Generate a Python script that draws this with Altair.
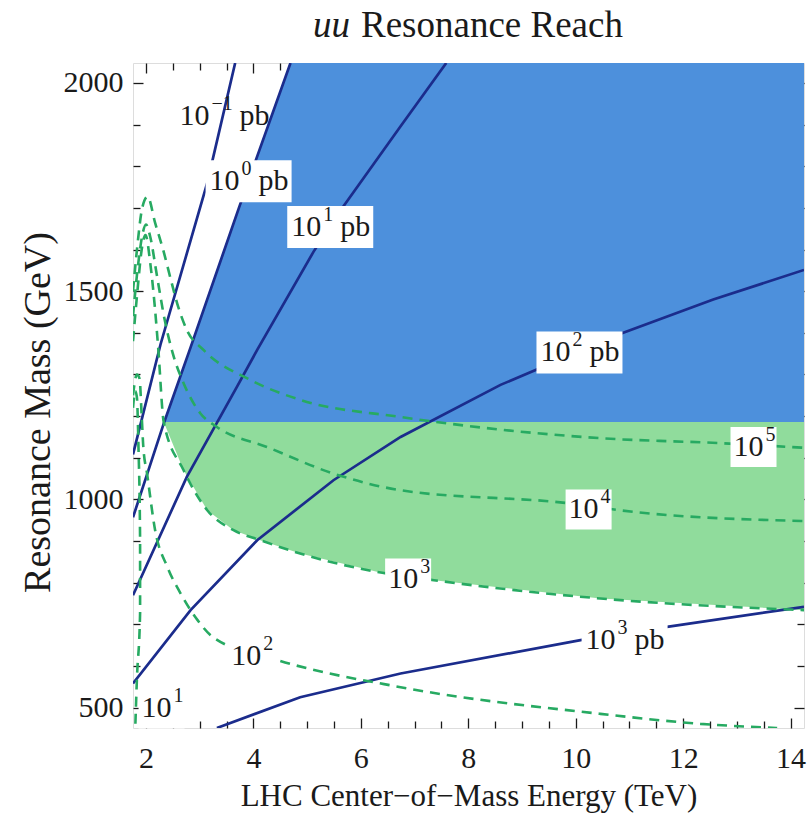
import altair as alt
import pandas as pd

# ---------------- axes ----------------
X_MIN, X_MAX = 1.758, 14.25
Y_MIN, Y_MAX = 451.0, 2048.0
SPLIT_MASS = 1186.0          # boundary between blue and green regions (GeV)

x_tick_values = [2, 2.5, 3, 3.5, 4, 4.5, 5, 5.5, 6, 6.5, 7, 7.5, 8, 8.5, 9, 9.5,
                 10, 10.5, 11, 11.5, 12, 12.5, 13, 13.5, 14]
x_tick_labels = [2, 4, 6, 8, 10, 12, 14]
y_tick_values = [500, 600, 700, 800, 900, 1000, 1100, 1200, 1300, 1400, 1500,
                 1600, 1700, 1800, 1900, 2000]
y_tick_labels = [500, 1000, 1500, 2000]

# ------------- cross-section contours (pb), solid navy -------------
pb_m1_x = [1.758, 2.27, 3.14, 3.66]
pb_m1_m = [1108, 1372, 1760, 2048]
pb_0_x = [1.758, 2.34, 2.83, 3.73, 4.04, 4.69]
pb_0_m = [957, 1186, 1365, 1700, 1813, 2048]
pb_1_x = [1.758, 2.76, 3.70, 4.07, 5.12, 5.67, 6.74, 7.59]
pb_1_m = [770, 1054, 1272, 1359, 1595, 1703, 1896, 2048]
pb_2_x = [1.758, 2.83, 4.07, 5.49, 6.74, 8.60, 10.86, 12.56, 14.25]
pb_2_m = [558, 734, 902, 1046, 1150, 1275, 1399, 1480, 1551]
pb_3_x = [3.32, 4.87, 6.74, 10.09, 11.70, 14.25]
pb_3_m = [451, 525, 582, 662, 694, 742]

# ------------- event-count contours, dashed green -------------
ev_5_x = [1.758, 1.84, 1.93, 2.03, 2.17, 2.32, 2.48, 2.58, 2.76, 3.07, 3.94,
          4.87, 6.74, 10.46, 12.70, 14.25]
ev_5_m = [1500, 1610, 1700, 1727, 1664, 1599, 1519, 1471, 1407, 1359, 1287,
          1239, 1198, 1147, 1135, 1124]
ev_4_x = [1.758, 1.85, 1.94, 2.00, 2.08, 2.20, 2.35, 2.50, 2.70, 3.01, 3.32,
          4.25, 5.49, 6.74, 9.85, 11.08, 14.25]
ev_4_m = [1440, 1560, 1640, 1660, 1630, 1540, 1430, 1350, 1279, 1207, 1174,
          1126, 1062, 1022, 991, 970, 948]
ev_3_x = [1.758, 1.84, 1.92, 1.99, 2.08, 2.17, 2.23, 2.33, 2.70, 3.14, 3.63,
          4.13, 4.87, 6.30, 7.36, 10.46, 14.25]
ev_3_m = [1380, 1500, 1600, 1635, 1567, 1454, 1359, 1186, 1070, 974, 926,
          902, 870, 826, 806, 762, 734]
ev_2_x = [1.758, 1.83, 1.88, 1.92, 1.95, 2.02, 2.17, 2.40, 2.64, 2.96, 3.25,
          4.45, 6.74, 10.46, 12.32, 13.75]
ev_2_m = [1250, 1300, 1290, 1200, 1126, 1062, 926, 837, 775, 710, 669,
          614, 549, 485, 461, 451]
ev_1_x = [1.758, 1.80, 1.83, 1.86, 1.89, 1.89, 1.83, 1.80]
ev_1_m = [1220, 1260, 1246, 1126, 900, 727, 566, 451]

# ------------- contour labels (10^exponent [pb]) -------------
pb_label_exp = ["−1", "0", "1", "2", "3"]
pb_label_x = [3.46, 3.91, 5.43, 10.07, 10.91]
pb_label_m = [1920, 1764, 1654, 1353, 663]
pb_label_boxed = [False, True, True, True, True]

ev_label_exp = ["5", "4", "3", "2", "1"]
ev_label_x = [13.31, 10.24, 6.88, 3.96, 2.29]
ev_label_m = [1126, 976, 810, 623, 498]

LABEL_BASE = "10"
PB_UNIT = "pb"

title_italic = "uu"
title_rest = "Resonance Reach"

# ---------------- build tables ----------------
def series_df(name, xs, ms):
    return pd.DataFrame({"series": name, "x": xs, "m": ms, "i": range(len(xs))})

pb_df = pd.concat([
    series_df("1e-1", pb_m1_x, pb_m1_m),
    series_df("1e0", pb_0_x, pb_0_m),
    series_df("1e1", pb_1_x, pb_1_m),
    series_df("1e2", pb_2_x, pb_2_m),
    series_df("1e3", pb_3_x, pb_3_m),
])
ev_df = pd.concat([
    series_df("5", ev_5_x, ev_5_m),
    series_df("4", ev_4_x, ev_4_m),
    series_df("3", ev_3_x, ev_3_m),
    series_df("2", ev_2_x, ev_2_m),
    series_df("1", ev_1_x, ev_1_m),
])

# blue region: right of the 10^0 pb contour and above SPLIT_MASS
blue_df = series_df("blue", pb_0_x, pb_0_m)
blue_df = blue_df[blue_df["m"] >= SPLIT_MASS]
blue_df = pd.concat([blue_df, pd.DataFrame({"series": ["blue"], "x": [X_MAX],
                                            "m": [Y_MAX], "i": [99]})])
# green region: above the 10^3 event contour and below SPLIT_MASS
green_df = series_df("green", ev_3_x, ev_3_m)
green_df = green_df[green_df["m"] <= SPLIT_MASS]

pb_lab = pd.DataFrame({"base": LABEL_BASE, "sup": pb_label_exp, "unit": PB_UNIT,
                       "x": pb_label_x, "m": pb_label_m, "boxed": pb_label_boxed})
ev_lab = pd.DataFrame({"base": LABEL_BASE, "sup": ev_label_exp,
                       "x": ev_label_x, "m": ev_label_m})
pb_lab_long = pb_lab[pb_lab["sup"].str.len() > 1]
pb_lab_short = pb_lab[pb_lab["sup"].str.len() == 1]

# ---------------- style ----------------
W, H = 671, 665
FONT = "Liberation Serif"
INK = "#1a1a1a"
NAVY = "#1b2c8c"
BLUE_FILL = "#4d90dc"
GREEN_FILL = "#90dc9c"
GREEN_LINE = "#27aa62"

xs = alt.Scale(domain=[X_MIN, X_MAX], nice=False, zero=False)
ys = alt.Scale(domain=[Y_MIN, Y_MAX], nice=False, zero=False)

x_major_test = "datum.value % 2 === 0"
y_major_test = "datum.value % 500 === 0"


def tick_axis(orient, values, offset, test):
    return alt.Axis(orient=orient, values=values, offset=offset, labels=False,
                    domain=False, grid=False, title=None, tickColor=INK,
                    tickWidth=1.3,
                    tickSize={"condition": {"test": test, "value": 10}, "value": 7})


x_label_axis = alt.Axis(orient="bottom", values=x_tick_labels, format="d",
                        ticks=False, domain=False, grid=False,
                        labelFont=FONT, labelFontSize=30, labelColor=INK,
                        labelPadding=15,
                        title="LHC Center−of−Mass Energy (TeV)",
                        titleFont=FONT, titleFontSize=31, titleFontWeight="normal",
                        titleColor=INK, titlePadding=8)
y_label_axis = alt.Axis(orient="left", values=y_tick_labels, format="d",
                        ticks=False, domain=False, grid=False,
                        labelFont=FONT, labelFontSize=30, labelColor=INK,
                        labelPadding=10,
                        title="Resonance Mass (GeV)",
                        titleFont=FONT, titleFontSize=38, titleFontWeight="normal",
                        titleColor=INK, titlePadding=6, titleY=349)

blue_area = alt.Chart(blue_df).mark_area(color=BLUE_FILL, opacity=1,
                                         clip=True).encode(
    x=alt.X("x:Q", scale=xs, axis=x_label_axis),
    y=alt.Y("m:Q", scale=ys, axis=y_label_axis),
    y2=alt.datum(SPLIT_MASS),
)

green_area = alt.Chart(green_df).mark_area(color=GREEN_FILL, opacity=1,
                                           clip=True).encode(
    x=alt.X("x:Q", scale=xs, axis=tick_axis("top", x_tick_values, -H, x_major_test)),
    y=alt.Y("m:Q", scale=ys, axis=tick_axis("right", y_tick_values, -W, y_major_test)),
    y2=alt.datum(SPLIT_MASS),
)

pb_lines = alt.Chart(pb_df).mark_line(color=NAVY, strokeWidth=2.7,
                                      clip=True).encode(
    x=alt.X("x:Q", scale=xs, axis=tick_axis("bottom", x_tick_values, -H, x_major_test)),
    y=alt.Y("m:Q", scale=ys, axis=tick_axis("left", y_tick_values, -W, y_major_test)),
    detail="series:N",
    order="i:Q",
)

ev_lines = alt.Chart(ev_df).mark_line(color=GREEN_LINE, strokeWidth=2.6,
                                      strokeDash=[10, 7], clip=True,
                                      interpolate="monotone").encode(
    x=alt.X("x:Q", scale=xs, axis=None),
    y=alt.Y("m:Q", scale=ys, axis=None),
    detail="series:N",
    order="i:Q",
)

pb_box_w, pb_box_h = 86, 42
ev_box_w, ev_box_h = 46, 40


def box_shape(w, h):
    r = h / w
    return f"M-1,-{r:.4f}L1,-{r:.4f}L1,{r:.4f}L-1,{r:.4f}Z"


def boxes(df, w, h):
    return alt.Chart(df).mark_point(
        shape=box_shape(w, h), size=w * w, filled=True, color="white",
        opacity=1, strokeWidth=0).encode(
        x=alt.X("x:Q", scale=xs, axis=None),
        y=alt.Y("m:Q", scale=ys, axis=None),
    )


def label_part(df, field, dx, dy=0, size=30, align="left"):
    return alt.Chart(df).mark_text(
        font=FONT, fontSize=size, color=INK, align=align, baseline="middle",
        dx=dx, dy=dy).encode(
        x=alt.X("x:Q", scale=xs, axis=None),
        y=alt.Y("m:Q", scale=ys, axis=None),
        text=f"{field}:N",
    )


SUP_SIZE, SUP_DY = 20, -12
label_layers = [
    # "10^-1 pb"
    label_part(pb_lab_long, "base", -15, align="right"),
    label_part(pb_lab_long, "sup", -13, SUP_DY, SUP_SIZE),
    label_part(pb_lab_long, "unit", 15),
    # "10^n pb"
    label_part(pb_lab_short, "base", -9, align="right"),
    label_part(pb_lab_short, "sup", -7, SUP_DY, SUP_SIZE),
    label_part(pb_lab_short, "unit", 10),
    # "10^n"
    label_part(ev_lab, "base", 10, align="right"),
    label_part(ev_lab, "sup", 12, SUP_DY, SUP_SIZE),
]

# chart title: italic "uu" followed by upright "Resonance Reach"
title_a = alt.Chart(pd.DataFrame({"t": [title_italic]})).mark_text(
    font=FONT, fontSize=37, fontStyle="italic", color=INK, align="right",
    baseline="alphabetic").encode(x=alt.value(217), y=alt.value(-26), text="t:N")
title_b = alt.Chart(pd.DataFrame({"t": [title_rest]})).mark_text(
    font=FONT, fontSize=37, color=INK, align="left",
    baseline="alphabetic").encode(x=alt.value(228), y=alt.value(-26), text="t:N")

chart = alt.layer(
    blue_area, green_area, pb_lines, ev_lines,
    boxes(pb_lab[pb_lab["boxed"]], pb_box_w, pb_box_h),
    boxes(ev_lab, ev_box_w, ev_box_h),
    *label_layers, title_a, title_b,
).resolve_axis(x="independent", y="independent").properties(
    width=W, height=H,
    autosize="none",
    padding={"left": 133, "top": 63, "right": 3, "bottom": 90},
).configure_view(stroke=INK, strokeWidth=1.5).configure(background="white")

chart.save("out.html", embed_options={"renderer": "svg", "actions": False})
